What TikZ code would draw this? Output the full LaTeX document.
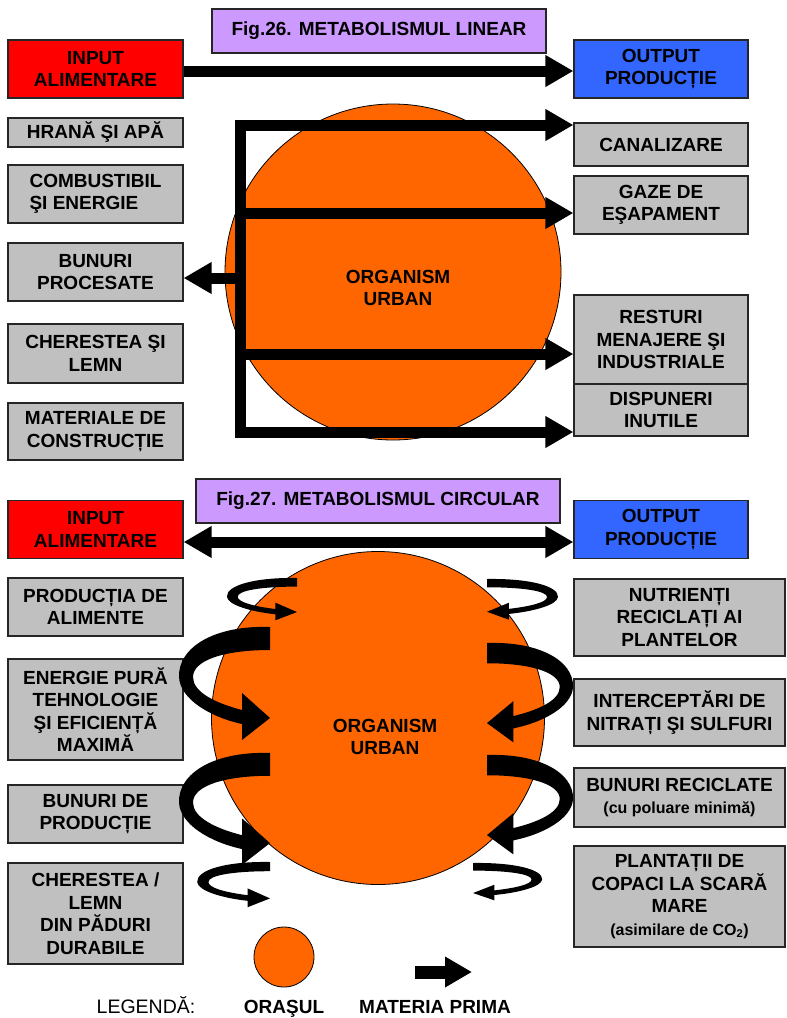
\documentclass[tikz,border=0pt]{standalone}
\usepackage{fontspec}
\setmainfont{Liberation Sans}
\usetikzlibrary{positioning,arrows.meta}
\definecolor{inred}{HTML}{FF0000}
\definecolor{outblue}{HTML}{3366FF}
\definecolor{figlilac}{HTML}{CC99FF}
\definecolor{boxgrey}{HTML}{C0C0C0}
\definecolor{cityorange}{HTML}{FF6600}
\newcommand\boxfont{\fontsize{19}{22.5}\selectfont\bfseries}
\newcommand\notefont{\fontsize{16}{19}\selectfont\bfseries}
\tikzset{
  basebox/.style={draw=black!85, line width=1.2pt, align=center, inner sep=2pt, font=\boxfont},
  inbox/.style={basebox, fill=inred, minimum width=175pt, minimum height=58pt},
  outbox/.style={basebox, fill=outblue, minimum width=174pt, minimum height=58pt},
  figbox/.style={basebox, fill=figlilac, minimum height=44pt},
  leftbox/.style={basebox, fill=boxgrey, minimum width=175pt, minimum height=58pt},
  rightbox/.style={basebox, fill=boxgrey, minimum width=174pt, minimum height=58pt},
  widebox/.style={basebox, fill=boxgrey, minimum width=211pt, minimum height=58pt},
  city/.style={circle, draw=black, line width=0.8pt, fill=cityorange, inner sep=0pt},
  citytext/.style={align=center, font=\boxfont},
  legtext/.style={anchor=base, font=\fontsize{19.5}{22.5}\selectfont},
  flowarrow/.style={line width=11pt, -{Triangle[length=28pt,width=30pt]}},
  bothflow/.style={line width=11pt, {Triangle[length=28pt,width=30pt]}-{Triangle[length=28pt,width=30pt]}},
  barline/.style={line width=11pt, line cap=rect},
  legarrow/.style={line width=13pt, -{Triangle[length=27pt,width=29pt]}},
  curl/.pic={
    \fill[black] (0,0) .. controls (-55,-2) and (-92,20) .. (-91,50)
      .. controls (-90,72) and (-60,90) .. (-28,97)
      -- (-28,113) -- (0,91) -- (-28,66) -- (-28,83)
      .. controls (-55,76) and (-77,65) .. (-77,50)
      .. controls (-77,33) and (-45,23) .. (0,23) -- cycle;
  }
}

\begin{document}
\begin{tikzpicture}[x=1pt, y=-1pt]
  \useasboundingbox (0,0) rectangle (787,1018);

  % linear metabolism
  \node[figbox, minimum width=334pt] (fig26) at (379,31) {Fig.26. METABOLISMUL LINEAR};
  \node[inbox] (in1) at (95.5,69) {INPUT\\ALIMENTARE};
  \node[outbox] (out1) at (661,69) {OUTPUT\\PRODUCȚIE};
  \node[leftbox, minimum height=29pt] (hrana) at (95.5,132.5) {HRANĂ ŞI APĂ};
  \node[leftbox, align=left] (combust) at (95.5,194) {COMBUSTIBIL\\ŞI ENERGIE};
  \node[leftbox] (procesate) at (95.5,272) {BUNURI\\PROCESATE};
  \node[leftbox, minimum height=59pt] (lemn1) at (95.5,353.5) {CHERESTEA ŞI\\LEMN};
  \node[leftbox, minimum height=57pt] (materiale) at (95.5,431.5) {MATERIALE DE\\CONSTRUCȚIE};
  \node[rightbox, minimum height=43pt] (canal) at (661,144.5) {CANALIZARE};
  \node[rightbox] (gaze) at (661,205) {GAZE DE\\EŞAPAMENT};
  \node[rightbox, minimum height=89pt] (resturi) at (661,339.5) {RESTURI\\MENAJERE ŞI\\INDUSTRIALE};
  \node[rightbox, minimum height=52pt] (dispuneri) at (661,410) {DISPUNERI\\INUTILE};
  \node[city, minimum size=336pt] (city1) at (393,272) {};

  \draw[flowarrow] ([yshift=-2pt]in1.east) -- ([yshift=-2pt]out1.west);
  \coordinate (t1) at (240.5,125);
  \coordinate (t2) at (240.5,213);
  \coordinate (t0) at (240.5,278);
  \coordinate (t3) at (240.5,354);
  \coordinate (t4) at (240.5,432);
  \draw[barline] (t1) -- (t4);
  \draw[flowarrow] (t1) -- (t1 -| canal.west);
  \draw[flowarrow] (t2) -- (t2 -| gaze.west);
  \draw[flowarrow] (t3) -- (t3 -| resturi.west);
  \draw[flowarrow] (t4) -- (t4 -| dispuneri.west);
  \draw[flowarrow] (t0) -- (t0 -| procesate.east);
  \node[citytext] (org1) at (398,288) {ORGANISM\\URBAN};

  % circular metabolism
  \node[figbox, minimum width=364pt] (fig27) at (378,501) {Fig.27. METABOLISMUL CIRCULAR};
  \node[inbox] (in2) at (95.5,529.5) {INPUT\\ALIMENTARE};
  \node[outbox] (out2) at (661,529.5) {OUTPUT\\PRODUCȚIE};
  \draw[bothflow] ([yshift=-12.5pt]in2.east) -- ([yshift=-12.5pt]out2.west);
  \node[leftbox] (prodal) at (95.5,607) {PRODUCȚIA DE\\ALIMENTE};
  \node[leftbox, minimum height=101pt] (energie) at (95.5,709.5) {ENERGIE PURĂ\\TEHNOLOGIE\\ŞI EFICIENȚĂ\\MAXIMĂ};
  \node[leftbox] (bunprod) at (95.5,814) {BUNURI DE\\PRODUCȚIE};
  \node[leftbox, minimum height=101pt] (lemn2) at (95.5,913.5) {CHERESTEA /\\LEMN\\DIN PĂDURI\\DURABILE};
  \node[widebox, minimum height=77pt] (nutrienti) at (679.5,617.5) {NUTRIENȚI\\RECICLAȚI AI\\PLANTELOR};
  \node[widebox, minimum height=67pt] (nitrati) at (679.5,712.5) {INTERCEPTĂRI DE\\NITRAȚI ŞI SULFURI};
  \node[widebox, minimum height=59pt] (reciclate) at (679.5,797.5) {BUNURI RECICLATE\\{\notefont (cu poluare minimă)}};
  \node[widebox, minimum height=101pt] (plantatii) at (679.5,896.5) {PLANTAȚII DE\\COPACI LA SCARĂ\\MARE\\{\notefont (asimilare de CO\textsubscript{2})}};
  \node[city, minimum size=333pt] (city2) at (378,718) {};

  \pic[xscale=0.77, yscale=0.374] at (297,578) {curl};
  \pic at (270,627) {curl};
  \pic[yscale=0.99] at (270,753) {curl};
  \pic[xscale=0.8, yscale=0.4] at (270,862) {curl};
  \pic[xscale=-0.78, yscale=0.36] at (487,579) {curl};
  \pic[xscale=-0.945, yscale=0.88] at (487,643) {curl};
  \pic[xscale=-0.945, yscale=0.88] at (487,755) {curl};
  \pic[xscale=-0.76, yscale=0.33] at (473,863) {curl};
  \node[citytext] (org2) at (385,737) {ORGANISM\\URBAN};

  % legend
  \node[city, minimum size=60pt] (legcity) at (284,957) {};
  \coordinate (legA) at (415,972);
  \coordinate (legB) at (472,972);
  \draw[legarrow] (legA) -- (legB);
  \node[legtext] (legend) at (146,1013) {LEGENDĂ:};
  \node[legtext, font=\boxfont] (legcitytxt) at (284,1013) {ORAŞUL};
  \node[legtext, font=\boxfont] (legarrtxt) at (435,1013) {MATERIA PRIMA};
\end{tikzpicture}
\end{document}
